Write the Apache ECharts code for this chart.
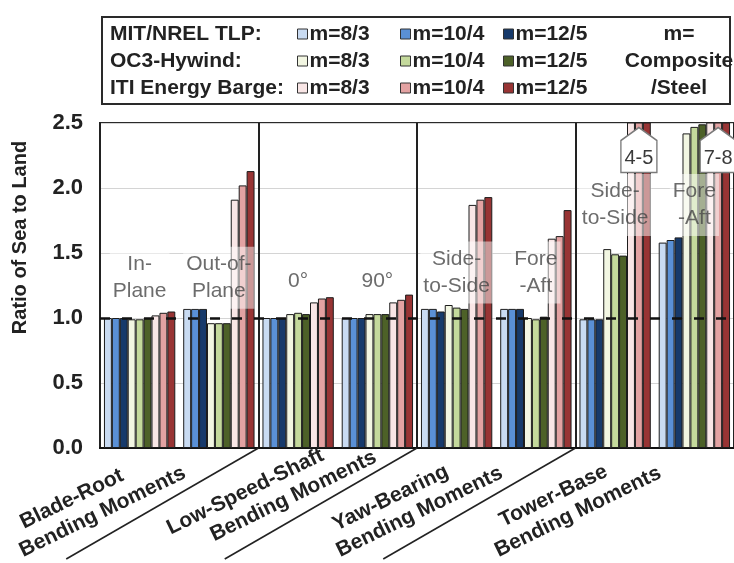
<!DOCTYPE html>
<html>
<head>
<meta charset="utf-8">
<script src="https://cdn.jsdelivr.net/npm/echarts@6/dist/echarts.min.js"></script>
<style>
  html, body { margin: 0; padding: 0; background: #fff; }
  #chart { width: 734px; height: 563px; }
</style>
</head>
<body>
<div id="chart"></div>
<script>
// Load groups along the bottom and the load cases inside each group
const loadGroups = ['Blade-Root\nBending Moments', 'Low-Speed-Shaft\nBending Moments', 'Yaw-Bearing\nBending Moments', 'Tower-Base\nBending Moments'];
const loadCases = ['Blade-Root In-Plane', 'Blade-Root Out-of-Plane', 'LSS 0°', 'LSS 90°', 'Yaw Side-to-Side', 'Yaw Fore-Aft', 'Tower Side-to-Side', 'Tower Fore-Aft'];
const caseLabels = ['In-\nPlane', 'Out-of-\nPlane', '0°', '90°', 'Side-\nto-Side', 'Fore\n-Aft', 'Side-\nto-Side', 'Fore\n-Aft'];
const caseLabelY = [1.31, 1.31, 1.28, 1.28, 1.35, 1.35, 1.87, 1.87];

// Platforms and composite/steel stiffness ratios
const platforms = ['MIT/NREL TLP', 'OC3-Hywind', 'ITI Energy Barge'];
const ratios = ['m=8/3', 'm=10/4', 'm=12/5'];

// Ratio of sea to land loads
const tlp_8_3  = [1.00, 1.07, 1.00, 1.00, 1.07, 1.07, 0.99, 1.58];
const tlp_10_4 = [1.00, 1.07, 1.00, 1.00, 1.07, 1.07, 0.99, 1.60];
const tlp_12_5 = [1.00, 1.07, 1.00, 1.00, 1.05, 1.07, 0.99, 1.62];
const oc3_8_3  = [0.99, 0.96, 1.03, 1.03, 1.10, 1.00, 1.53, 2.42];
const oc3_10_4 = [0.99, 0.96, 1.04, 1.03, 1.08, 0.99, 1.49, 2.47];
const oc3_12_5 = [1.00, 0.96, 1.03, 1.03, 1.07, 1.01, 1.48, 2.49];
const iti_8_3  = [1.02, 1.91, 1.12, 1.12, 1.87, 1.61, 4.3, 7.3];
const iti_10_4 = [1.04, 2.02, 1.15, 1.14, 1.91, 1.63, 4.6, 7.6];
const iti_12_5 = [1.05, 2.13, 1.16, 1.18, 1.93, 1.83, 4.9, 7.9];

// Barge cases that run off the scale, with their value ranges
const offScaleCases = [6, 7];
const offScaleLabels = ['4-5', '7-8'];

const yMin = 0, yMax = 2.5, yStep = 0.5;

const FONT = '"Liberation Sans", Arial, sans-serif';

const seriesDefs = [
  { p: 0, r: 0, data: tlp_8_3,  color: '#c9dbf2' },
  { p: 0, r: 1, data: tlp_10_4, color: '#5a90d6' },
  { p: 0, r: 2, data: tlp_12_5, color: '#173a6b' },
  { p: 1, r: 0, data: oc3_8_3,  color: '#f2f6e2' },
  { p: 1, r: 1, data: oc3_10_4, color: '#c4d99c' },
  { p: 1, r: 2, data: oc3_12_5, color: '#4d6128' },
  { p: 2, r: 0, data: iti_8_3,  color: '#f9e6e6' },
  { p: 2, r: 1, data: iti_10_4, color: '#e3a2a2' },
  { p: 2, r: 2, data: iti_12_5, color: '#983434' }
];

const seriesName = d => platforms[d.p] + ' ' + ratios[d.r];

const series = seriesDefs.map((d, k) => {
  const s = {
    type: 'bar',
    name: seriesName(d),
    data: d.data,
    xAxisIndex: 0,
    yAxisIndex: 0,
    barGap: '0%',
    barCategoryGap: '10%',
    itemStyle: { color: d.color, borderColor: '#1c1c1c', borderWidth: 1 },
    emphasis: { disabled: true },
    silent: true
  };
  if (d.p === 2 && d.r === 1) {
    // callouts for the barge values above the axis range
    s.markPoint = {
      silent: true,
      symbol: 'path://M18 0 L36 13 L36 45 L0 45 L0 13 Z',
      symbolSize: [36, 45],
      symbolKeepAspect: false,
      symbolOffset: [0, 27],
      itemStyle: { color: '#ffffff', borderColor: '#7a7a7a', borderWidth: 1.5 },
      label: {
        show: true, position: 'inside', offset: [0, 8],
        formatter: p => p.name,
        fontFamily: FONT, fontSize: 20, color: '#3a3a3a'
      },
      data: offScaleCases.map((c, i) => ({ name: offScaleLabels[i], coord: [loadCases[c], yMax] }))
    };
  }
  if (k === seriesDefs.length - 1) {
    // land reference level
    s.markLine = {
      silent: true,
      symbol: 'none',
      label: { show: false },
      lineStyle: { color: '#111', type: [10, 12], width: 2.5 },
      data: [{ yAxis: 1 }]
    };
  }
  return s;
});

// load-case names drawn inside the plot
series.push({
  type: 'scatter',
  name: 'case labels',
  xAxisIndex: 0,
  yAxisIndex: 0,
  symbolSize: 1,
  itemStyle: { color: 'transparent' },
  z: 4,
  silent: true,
  data: loadCases.map((c, i) => [c, caseLabelY[i]]),
  label: {
    show: true,
    position: 'inside',
    formatter: p => caseLabels[p.dataIndex],
    fontFamily: FONT,
    fontSize: 21,
    lineHeight: 27,
    color: '#474747',
    backgroundColor: 'rgba(255,255,255,0.62)',
    padding: [4, 3]
  }
});

// legend rows (vertical centres) and the left edge of each ratio column
const legendRowMid = [34, 61, 88];
const legendColLeft = [297, 400, 503];

const legends = [];
platforms.forEach((pl, p) => {
  ratios.forEach((r, c) => {
    legends.push({
      data: [pl + ' ' + r],
      left: legendColLeft[c],
      top: legendRowMid[p] - 12,
      orient: 'horizontal',
      padding: 0,
      itemWidth: 10,
      itemHeight: 10,
      itemGap: 0,
      icon: 'rect',
      selectedMode: false,
      formatter: n => n.slice(pl.length + 1),
      itemStyle: { borderColor: '#333', borderWidth: 1 },
      textStyle: { fontFamily: FONT, fontSize: 21, fontWeight: 'bold', color: '#222', padding: [0, 0, 0, -3], lineHeight: 24 }
    });
  });
});

const option = {
  animation: false,
  backgroundColor: '#ffffff',
  textStyle: { fontFamily: FONT },
  grid: {
    left: 100, right: -6, top: 123, bottom: 115,
    show: true, borderColor: '#2a2a2a', borderWidth: 2, backgroundColor: 'transparent'
  },
  legend: legends,
  xAxis: [
    {
      type: 'category',
      data: loadCases,
      position: 'bottom',
      axisLine: { show: true, lineStyle: { color: '#111', width: 2 } },
      axisTick: { show: false },
      axisLabel: { show: false },
      splitLine: {
        show: true,
        interval: (i) => i > 0 && i % 2 === 0,
        lineStyle: { color: '#222', width: 2 }
      }
    }
  ],
  yAxis: {
    type: 'value',
    min: yMin, max: yMax, interval: yStep,
    name: 'Ratio of Sea to Land',
    nameLocation: 'middle',
    nameGap: 70,
    nameTextStyle: { fontFamily: FONT, fontSize: 20, fontWeight: 'bold', color: '#222', padding: [0, 0, 0, 96] },
    axisLine: { show: true, lineStyle: { color: '#222', width: 2 } },
    axisTick: { show: false },
    axisLabel: {
      margin: 17,
      formatter: v => v.toFixed(1),
      fontFamily: FONT, fontSize: 22, fontWeight: 'bold', color: '#222'
    },
    splitLine: { show: true, lineStyle: { color: '#d4d4d4', width: 1 } }
  },
  series: series
};

const chart = echarts.init(document.getElementById('chart'), null, { renderer: 'canvas' });
chart.setOption(option);

// legend frame, row titles, rotated group names and the diagonal group separators
function decorate() {
  const y0 = chart.convertToPixel({ yAxisIndex: 0 }, yMin);
  const xs = loadCases.map(c => chart.convertToPixel({ xAxisIndex: 0 }, c));
  const bounds = [2, 4, 6].map(i => (xs[i - 1] + xs[i]) / 2);
  const sepAng = 30 * Math.PI / 180;
  const textAng = 26 * Math.PI / 180;
  const len = 222;
  // first-line shift along the text direction, per group
  const firstLineShift = [13, -36, 8, 17];
  const elements = [
    {
      type: 'rect', z: 0,
      shape: { x: 102, y: 17, width: 628, height: 87 },
      style: { fill: '#fff', stroke: '#2a2a2a', lineWidth: 2 }
    },
    {
      type: 'text', z: 10, x: 679, y: 61,
      style: {
        text: 'm=\nComposite\n/Steel', align: 'center', verticalAlign: 'middle',
        font: 'bold 21px ' + FONT, fill: '#222', lineHeight: 27
      }
    }
  ];
  platforms.forEach((pl, p) => {
    elements.push({
      type: 'text', z: 10, x: 110, y: legendRowMid[p],
      style: { text: pl + ':', font: 'bold 21px ' + FONT, fill: '#222', verticalAlign: 'middle' }
    });
  });
  bounds.forEach(bx => {
    elements.push({
      type: 'line', z: 10,
      shape: { x1: bx, y1: y0, x2: bx - len * Math.cos(sepAng), y2: y0 + len * Math.sin(sepAng) },
      style: { stroke: '#222', lineWidth: 1.6 }
    });
  });
  loadGroups.forEach((g, i) => {
    const cx = (xs[2 * i] + xs[2 * i + 1]) / 2;
    const parts = g.split('\n');
    const sh = firstLineShift[i];
    elements.push({
      type: 'text', z: 10,
      x: cx - 153, y: y0 + 115,
      rotation: textAng,
      style: {
        text: '{a|' + parts[0] + '}\n{b|' + parts[1] + '}',
        align: 'left', verticalAlign: 'bottom',
        rich: {
          a: { font: 'bold 21px ' + FONT, fill: '#222', lineHeight: 25, padding: sh >= 0 ? [0, 0, 0, sh] : [0, 0, 0, 0] },
          b: { font: 'bold 21px ' + FONT, fill: '#222', lineHeight: 25, padding: sh < 0 ? [0, 0, 0, -sh] : [0, 0, 0, 0] }
        }
      }
    });
  });
  chart.setOption({ graphic: { elements: elements } });
}
decorate();
</script>
</body>
</html>
